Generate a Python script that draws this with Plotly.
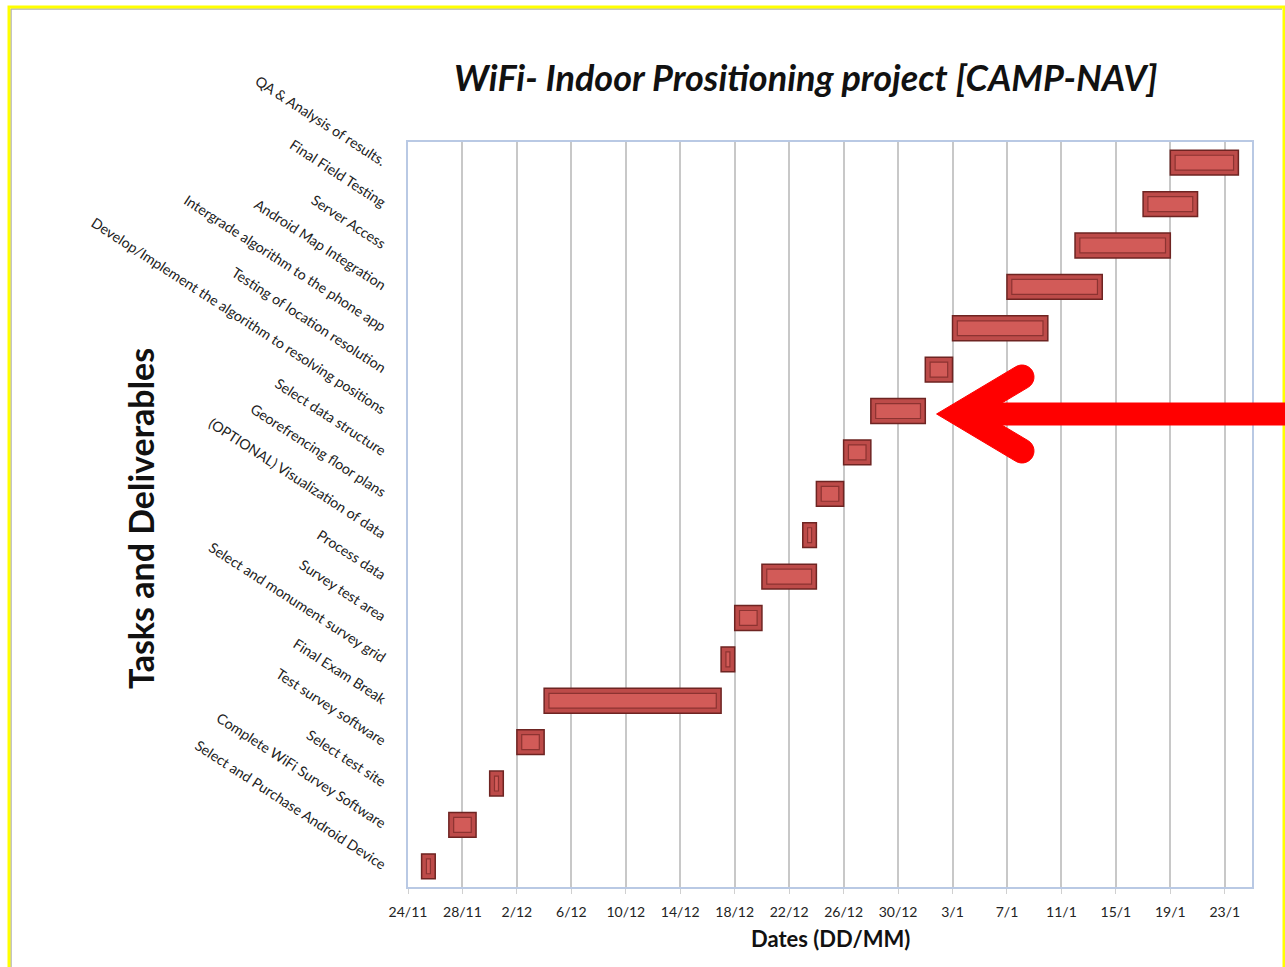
import math
import pandas as pd
import plotly.graph_objects as go

# ---------------- data (bottom row first) ----------------
tasks = [
    "Select and Purchase Android Device",
    "Complete WiFi Survey Software",
    "Select test site",
    "Test survey software",
    "Final Exam Break",
    "Select and monument survey grid",
    "Survey test area",
    "Process data",
    "(OPTIONAL) Visualization of data",
    "Georefrencing floor plans",
    "Select data structure",
    "Develop/Implement the algorithm to resolving positions",
    "Testing of location resolution",
    "Intergrade algorithm to the phone app",
    "Android Map Integration",
    "Server Access",
    "Final Field Testing",
    "QA & Analysis of results.",
]
start_dates = [
    "2012-11-25", "2012-11-27", "2012-11-30", "2012-12-02", "2012-12-04",
    "2012-12-17", "2012-12-18", "2012-12-20", "2012-12-23", "2012-12-24",
    "2012-12-26", "2012-12-28", "2013-01-01", "2013-01-03", "2013-01-07",
    "2013-01-12", "2013-01-17", "2013-01-19",
]
durations_days = [1, 2, 1, 2, 13, 1, 2, 4, 1, 2, 2, 4, 2, 7, 7, 7, 4, 5]

axis_start = "2012-11-24"
axis_end = "2013-01-25"
tick_step_days = 4

title_text = "WiFi- Indoor Prositioning project [CAMP-NAV]"
y_title = "Tasks and Deliverables"
x_title = "Dates (DD/MM)"

# ---------------- layout geometry ----------------
W, H = 1285, 967
L, R, T, B = 408, 1252, 142, 887   # plot area in pixels


def px(x):
    return (x - L) / (R - L)


def py(y):
    return (B - y) / (B - T)


DAY_MS = 86400000
starts = pd.to_datetime(start_dates)
inset = pd.Timedelta(hours=8.5)

fig = go.Figure()
# outer bevel body
fig.add_trace(go.Bar(
    y=tasks, base=starts, x=[d * DAY_MS for d in durations_days],
    orientation="h", width=0.6,
    marker=dict(color="#bd4b49", line=dict(color="#6e2422", width=1.5)),
    hoverinfo="skip", showlegend=False,
))
# inner face
fig.add_trace(go.Bar(
    y=tasks, base=starts + inset,
    x=[d * DAY_MS - 2 * inset.total_seconds() * 1000 for d in durations_days],
    orientation="h", width=0.36,
    marker=dict(color="#d25b58", line=dict(color="#8c3331", width=1.2)),
    hoverinfo="skip", showlegend=False,
))

font_family = "Lato, 'Open Sans', sans-serif"

fig.update_layout(
    width=W, height=H,
    margin=dict(l=L, r=W - R, t=T, b=H - B),
    paper_bgcolor="white", plot_bgcolor="white",
    barmode="overlay",
    font=dict(family=font_family, color="#222222"),
    xaxis=dict(
        type="date", range=[axis_start, axis_end],
        tick0=axis_start, dtick=tick_step_days * DAY_MS, tickformat="%-d/%-m",
        showgrid=True, gridcolor="#c8c8c8", gridwidth=1.6,
        showline=True, linecolor="#b9c9e4", linewidth=1.5, mirror=True,
        ticks="outside", ticklen=5, tickcolor="#d0d0d0",
        tickfont=dict(size=14, color="#222222"),
        ticklabelstandoff=6,
        zeroline=False,
    ),
    yaxis=dict(
        type="category", categoryorder="array", categoryarray=tasks,
        range=[-0.5, len(tasks) - 0.5],
        showgrid=False,
        showline=True, linecolor="#b9c9e4", linewidth=1.5, mirror=True,
        tickangle=33, ticks="", ticklabelstandoff=18,
        tickfont=dict(size=14.2, color="#222222"),
    ),
)

annotations = [
    dict(text=title_text, x=px(806), y=py(77), xref="paper", yref="paper",
         showarrow=False, xanchor="center", yanchor="middle",
         font=dict(size=36, family=font_family, weight="bold", style="italic", color="#111111")),
    dict(text=y_title, x=px(140), y=py(519), xref="paper", yref="paper",
         showarrow=False, textangle=-90, xanchor="center", yanchor="middle",
         font=dict(size=34, family=font_family, weight="bold", color="#111111")),
    dict(text=x_title, x=px(830), y=py(938), xref="paper", yref="paper",
         showarrow=False, xanchor="center", yanchor="middle",
         font=dict(size=22, family=font_family, weight="bold", color="#111111")),
]
fig.update_layout(annotations=annotations)

# ---------------- frame ----------------
shapes = [
    dict(type="line", xref="paper", yref="paper", x0=px(11), x1=px(11), y0=py(9), y1=py(975),
         line=dict(color="#b0b0b0", width=1.5)),
    dict(type="line", xref="paper", yref="paper", x0=px(11), x1=px(1282), y0=py(9), y1=py(9),
         line=dict(color="#b0b0b0", width=1.5)),
    dict(type="rect", xref="paper", yref="paper", x0=px(9), x1=px(1284), y0=py(975), y1=py(7),
         line=dict(color="#ffff00", width=3)),
]

# ---------------- red arrow (pixel geometry) ----------------
h = 12.0
C = (960.0, 414.0)
U = (1022.0, 377.0)
Lo = (1022.0, 451.0)
shaft_top, shaft_bot, shaft_end = 403.0, 425.0, 1290.0


def unit(a, b):
    dx, dy = b[0] - a[0], b[1] - a[1]
    n = math.hypot(dx, dy)
    return dx / n, dy / n


def arc(center, a0, a1, steps=14):
    pts = []
    for i in range(steps + 1):
        a = a0 + (a1 - a0) * i / steps
        pts.append((center[0] + h * math.cos(a), center[1] + h * math.sin(a)))
    return pts


du = unit(C, U)
nu = (-du[1], du[0])
dl = unit(C, Lo)
nl = (-dl[1], dl[0])


def line_y(p, d, y):
    t = (y - p[1]) / d[1]
    return (p[0] + t * d[0], y)


up_outer_p = (C[0] + h * nu[0], C[1] + h * nu[1])
up_inner_p = (C[0] - h * nu[0], C[1] - h * nu[1])
lo_outer_p = (C[0] - h * nl[0], C[1] - h * nl[1])
lo_inner_p = (C[0] + h * nl[0], C[1] + h * nl[1])
if up_outer_p[0] > up_inner_p[0]:
    up_outer_p, up_inner_p = up_inner_p, up_outer_p
if lo_outer_p[0] > lo_inner_p[0]:
    lo_outer_p, lo_inner_p = lo_inner_p, lo_outer_p

tip = line_y(up_outer_p, du, C[1])
up_inner_shaft = line_y(up_inner_p, du, shaft_top)
lo_inner_shaft = line_y(lo_inner_p, dl, shaft_bot)

ang_u = math.atan2(du[1], du[0])
ang_l = math.atan2(dl[1], dl[0])

pts = [tip]
pts += arc(U, ang_u - math.pi / 2, ang_u + math.pi / 2)
pts.append(up_inner_shaft)
pts.append((shaft_end, shaft_top))
pts.append((shaft_end, shaft_bot))
pts.append(lo_inner_shaft)
pts += arc(Lo, ang_l - math.pi / 2, ang_l + math.pi / 2)
pts.append(tip)

path = "M " + " L ".join(f"{px(x):.5f},{py(y):.5f}" for x, y in pts) + " Z"
shapes.append(dict(type="path", xref="paper", yref="paper", path=path,
                   fillcolor="#ff0000", line=dict(color="#ff0000", width=1)))

fig.update_layout(shapes=shapes)

fig.write_html(
    "out.html",
    config={"displayModeBar": False},
    post_script="document.body.style.margin='0';document.body.style.overflow='hidden';",
)
